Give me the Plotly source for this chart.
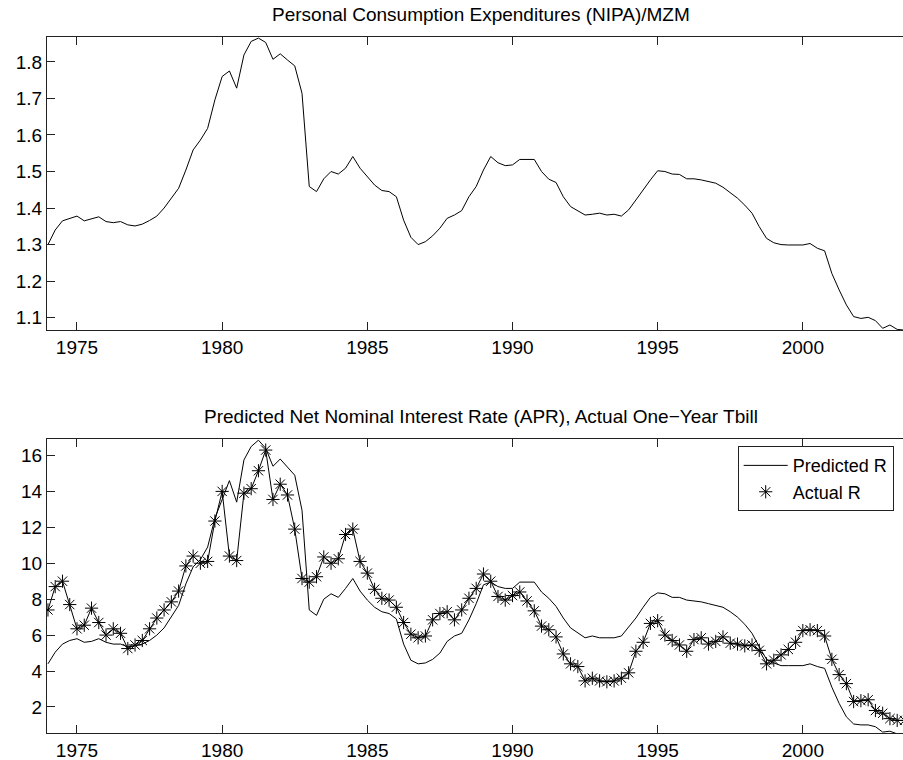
import plotly.graph_objects as go
from plotly.subplots import make_subplots

start_year = 1974.0
# Quarterly observations, 1974Q1 .. 2003Q3
c_mzm = [1.300, 1.340, 1.365, 1.372, 1.378, 1.365, 1.370, 1.376, 1.363, 1.360,
         1.363, 1.354, 1.351, 1.356, 1.366, 1.378, 1.400, 1.427, 1.454, 1.504,
         1.559, 1.586, 1.618, 1.696, 1.760, 1.775, 1.728, 1.819, 1.856, 1.865,
         1.853, 1.807, 1.822, 1.805, 1.789, 1.714, 1.459, 1.445, 1.480, 1.500,
         1.493, 1.509, 1.541, 1.509, 1.486, 1.463, 1.448, 1.445, 1.431, 1.367,
         1.320, 1.300, 1.308, 1.324, 1.345, 1.372, 1.381, 1.393, 1.431, 1.459,
         1.504, 1.541, 1.524, 1.516, 1.518, 1.533, 1.533, 1.533, 1.500, 1.479,
         1.470, 1.431, 1.404, 1.393, 1.381, 1.383, 1.386, 1.381, 1.383, 1.378,
         1.395, 1.422, 1.451, 1.477, 1.502, 1.500, 1.493, 1.492, 1.480, 1.480,
         1.477, 1.472, 1.468, 1.457, 1.442, 1.427, 1.408, 1.386, 1.349, 1.317,
         1.305, 1.300, 1.299, 1.299, 1.299, 1.303, 1.290, 1.283, 1.221, 1.176,
         1.135, 1.103, 1.098, 1.101, 1.092, 1.071, 1.080, 1.068, 1.066]

predicted_r = [4.40, 5.05, 5.50, 5.70, 5.80, 5.60, 5.65, 5.80, 5.60, 5.50,
               5.50, 5.35, 5.40, 5.50, 5.70, 6.00, 6.40, 7.00, 7.65, 8.85,
               9.80, 10.20, 10.90, 12.50, 13.60, 14.60, 13.40, 15.75, 16.50, 16.85,
               16.40, 15.40, 15.80, 15.35, 14.90, 12.95, 7.40, 7.10, 8.00, 8.30,
               8.10, 8.60, 9.15, 8.45, 7.95, 7.55, 7.30, 7.20, 6.90, 5.50,
               4.60, 4.40, 4.45, 4.65, 5.00, 5.65, 5.95, 6.10, 6.85, 7.75,
               8.80, 8.95, 8.70, 8.60, 8.60, 8.95, 8.95, 8.95, 8.40, 8.05,
               7.60, 6.95, 6.40, 6.10, 5.85, 5.95, 5.85, 5.85, 5.85, 5.95,
               6.45, 6.95, 7.55, 8.10, 8.35, 8.30, 8.10, 8.10, 7.95, 7.90,
               7.85, 7.75, 7.65, 7.55, 7.30, 7.00, 6.60, 6.10, 5.35, 4.65,
               4.45, 4.30, 4.30, 4.30, 4.30, 4.40, 4.25, 4.15, 3.10, 2.20,
               1.45, 1.05, 1.00, 1.00, 0.90, 0.60, 0.65, 0.50, 0.50]

actual_r = [7.40, 8.70, 9.00, 7.70, 6.35, 6.55, 7.50, 6.70, 6.00, 6.35,
            6.10, 5.25, 5.45, 5.70, 6.35, 6.95, 7.40, 7.85, 8.45, 9.85,
            10.40, 10.00, 10.10, 12.35, 14.00, 10.40, 10.15, 13.90, 14.15, 15.15,
            16.30, 13.55, 14.40, 13.80, 11.90, 9.15, 8.95, 9.25, 10.35, 10.00,
            10.25, 11.60, 11.90, 10.10, 9.45, 8.55, 8.05, 7.95, 7.55, 6.70,
            6.05, 5.85, 5.95, 6.85, 7.20, 7.30, 6.85, 7.40, 8.05, 8.60,
            9.40, 9.00, 8.15, 7.95, 8.20, 8.40, 7.90, 7.35, 6.50, 6.30,
            5.90, 4.95, 4.40, 4.25, 3.45, 3.60, 3.45, 3.40, 3.45, 3.60,
            3.90, 5.10, 5.60, 6.65, 6.80, 6.00, 5.70, 5.45, 5.10, 5.75,
            5.85, 5.50, 5.65, 5.90, 5.55, 5.50, 5.40, 5.45, 5.15, 4.40,
            4.60, 4.90, 5.20, 5.60, 6.25, 6.30, 6.25, 5.95, 4.65, 3.80,
            3.30, 2.30, 2.35, 2.40, 1.80, 1.65, 1.35, 1.25, 1.25]

x_ticks = [1975, 1980, 1985, 1990, 1995, 2000]
top_y_ticks = [1.1, 1.2, 1.3, 1.4, 1.5, 1.6, 1.7, 1.8]
bottom_y_ticks = [2, 4, 6, 8, 10, 12, 14, 16]

top_title = "Personal Consumption Expenditures (NIPA)/MZM"
bottom_title = "Predicted Net Nominal Interest Rate (APR), Actual One\u2212Year Tbill"

years = [start_year + 0.25 * i for i in range(len(c_mzm))]

W, H = 903, 760
l_m = 47
t_m, b_m = 37, 27.3
ph = H - t_m - b_m
pw = W - l_m


def yf(px):
    return (H - b_m - px) / ph


def xf(px):
    return (px - l_m) / pw


fig = make_subplots(rows=2, cols=1, vertical_spacing=0.05)
fig.update_layout(
    yaxis=dict(domain=[yf(330), 1.0]),
    yaxis2=dict(domain=[0.0, yf(439.3)]),
)

fig.add_trace(go.Scatter(x=years, y=c_mzm, mode="lines",
                         line=dict(color="black", width=1), showlegend=False),
              row=1, col=1)
fig.add_trace(go.Scatter(x=years, y=predicted_r, mode="lines", name="Predicted R",
                         line=dict(color="black", width=1)), row=2, col=1)
fig.add_trace(go.Scatter(x=years, y=actual_r, mode="lines", showlegend=False,
                         line=dict(color="black", width=1)), row=2, col=1)
fig.add_trace(go.Scatter(x=years, y=actual_r, mode="markers", name="Actual R",
                         marker=dict(symbol="asterisk-open", size=11, color="black",
                                     line=dict(color="black", width=1))),
              row=2, col=1)

font_family = "Liberation Sans, Arial, sans-serif"
axis_common = dict(showgrid=False, zeroline=False, showline=True, linecolor="#222",
                   linewidth=1, ticks="inside", ticklen=8, tickcolor="#222",
                   tickfont=dict(family=font_family, size=19, color="black"))

for r in (1, 2):
    fig.update_xaxes(range=[1973.967, 2003.45], tickvals=x_ticks,
                     ticktext=[str(v) for v in x_ticks], mirror="ticks",
                     row=r, col=1, **axis_common)

fig.update_yaxes(range=[1.066, 1.868], tickvals=top_y_ticks,
                 ticktext=[f"{v:.1f}" for v in top_y_ticks], row=1, col=1,
                 **axis_common)
fig.update_yaxes(range=[0.55, 16.89], tickvals=bottom_y_ticks,
                 ticktext=[str(v) for v in bottom_y_ticks], row=2, col=1,
                 **axis_common)

fig.add_annotation(text=top_title, xref="paper", yref="paper", x=xf(481.5),
                   y=yf(15), showarrow=False, xanchor="center", yanchor="middle",
                   font=dict(family=font_family, size=19, color="black"))
fig.add_annotation(text=bottom_title, xref="paper", yref="paper", x=xf(481.5),
                   y=yf(416.5), showarrow=False, xanchor="center", yanchor="middle",
                   font=dict(family=font_family, size=19, color="black"))

fig.update_layout(
    width=W, height=H,
    margin=dict(l=l_m, r=0, t=t_m, b=b_m),
    paper_bgcolor="white", plot_bgcolor="white",
    font=dict(family=font_family, color="black"),
    legend=dict(x=xf(737.7), xanchor="left", y=yf(446), yanchor="top",
                bgcolor="white", bordercolor="#222", borderwidth=1,
                font=dict(family=font_family, size=18, color="black"),
                tracegroupgap=0, itemwidth=44),
)

fig.write_html("out.html", config={"displayModeBar": False},
               post_script="document.body.style.margin='0';document.body.style.padding='0';")
